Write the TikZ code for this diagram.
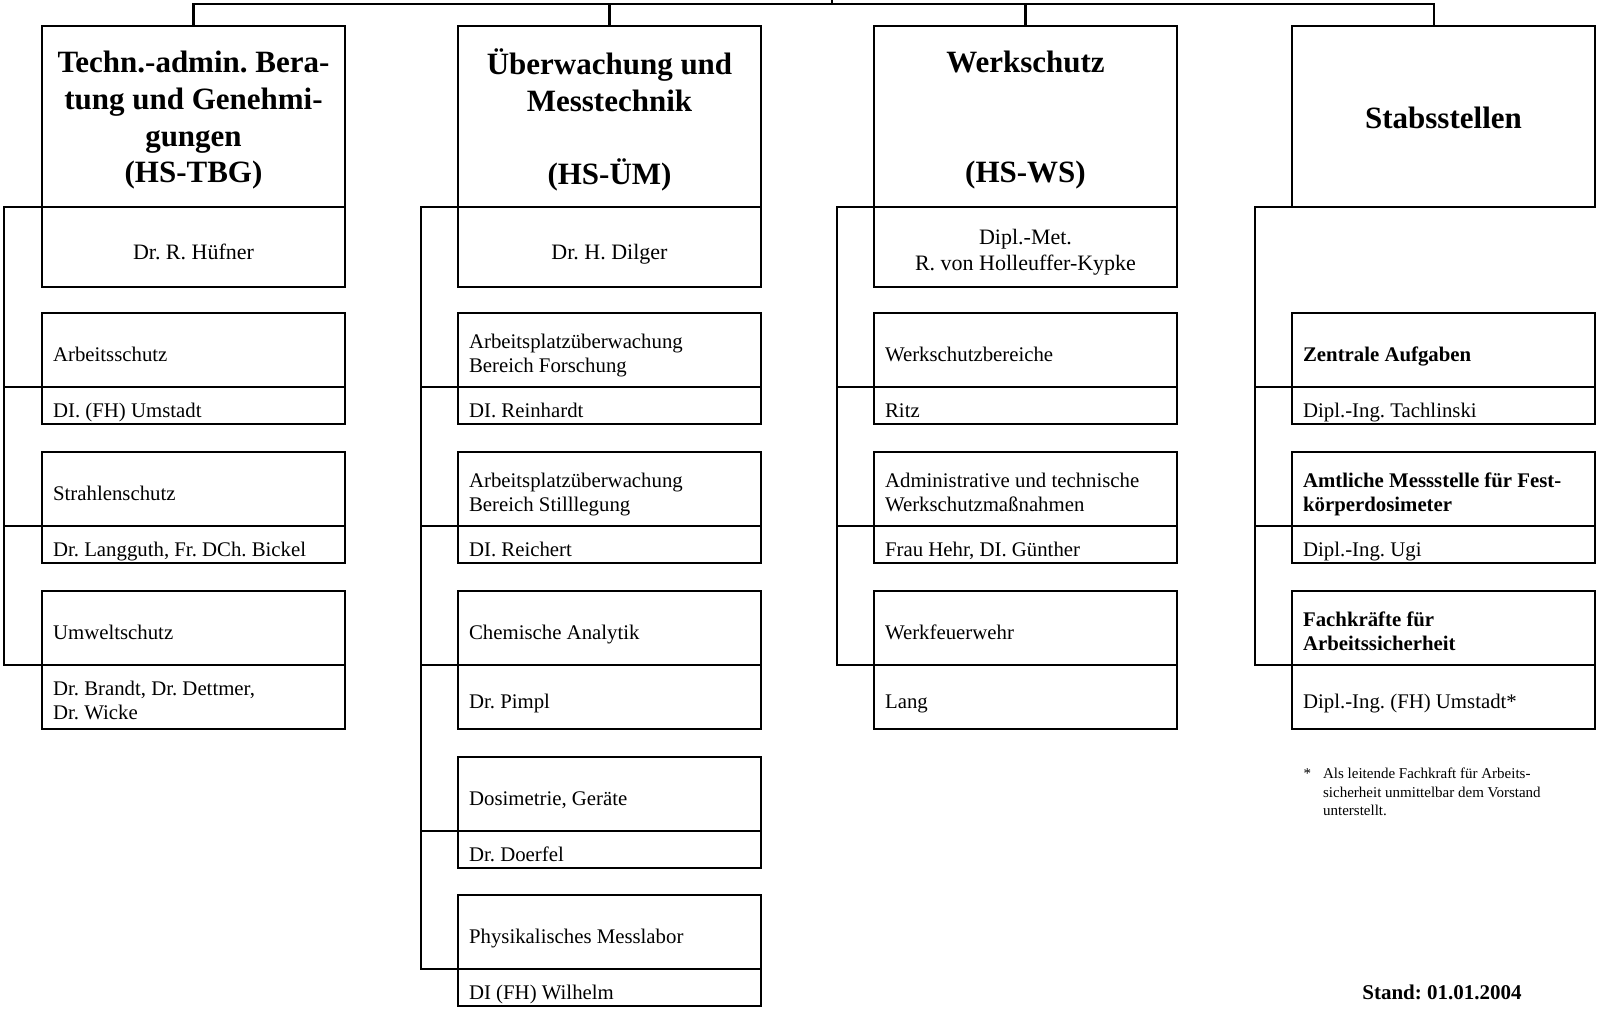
\documentclass[tikz,border=0pt]{standalone}
\usepackage{fontspec}
\setmainfont{Liberation Serif}
\usetikzlibrary{positioning}
\frenchspacing

\begin{document}
\begin{tikzpicture}[
            x=0.5pt, y=-0.5pt,
            line width=1.1pt,
            box/.style     ={draw, line width=1.1pt, inner sep=0pt, outer sep=0pt,
                             minimum width=151.5pt, anchor=north west},
            kopf/.style    ={box, minimum height=90.5pt},
            leiter/.style  ={box, minimum height=40pt},
            bereich/.style ={box, minimum height=37pt},
            person/.style  ={box, minimum height=18.5pt},
            personx/.style ={box, minimum height=32pt},
            strt/.style    ={inner sep=0pt, execute at begin node=\strut, execute at end node=\strut},
            titel/.style   ={strt, align=center, font=\fontsize{15.5}{18.35}\selectfont\bfseries},
            chef/.style    ={strt, align=center, font=\fontsize{11}{13.3}\selectfont},
            txt/.style     ={strt, align=left, anchor=west, font=\fontsize{10.4}{12}\selectfont},
            txtb/.style    ={txt, font=\fontsize{10.4}{12}\selectfont\bfseries},
            note/.style    ={strt, align=left, anchor=north west, font=\fontsize{7.5}{9.2}\selectfont}
        ]
        \useasboundingbox (0,0) rectangle (1597,1009);

        % --- Hauptabteilungen
        \node[kopf] (kTBG) at (42,26) {};
        \node[kopf] (kUeM) at (458,26) {};
        \node[kopf] (kWS)  at (874,26) {};
        \node[kopf] (kSt)  at (1292,26) {};
        \node[titel] (tkTBG) at ([yshift=-3pt]kTBG.center)
              {Techn.-admin. Bera-\\tung und Genehmi-\\gungen\\(HS-TBG)};
        \node[titel] (tkUeM) at ([yshift=-3pt]kUeM.center)
              {Überwachung und\\Messtechnik\\\mbox{}\\(HS-ÜM)};
        \node[titel] (tkWS) at ([yshift=-3pt]kWS.center)
              {Werkschutz\\\mbox{}\\\mbox{}\\(HS-WS)};
        \node[titel] (tkSt) at ([yshift=-2.5pt]kSt.center) {Stabsstellen};

        \node[leiter, below=0pt of kTBG] (lTBG) {};
        \node[leiter, below=0pt of kUeM] (lUeM) {};
        \node[leiter, below=0pt of kWS]  (lWS)  {};
        \node[chef] (tlTBG) at ([yshift=-3.5pt]lTBG.center) {Dr. R. Hüfner};
        \node[chef] (tlUeM) at ([yshift=-3.5pt]lUeM.center) {Dr. H. Dilger};
        \node[chef] (tlWS)  at ([yshift=-3.5pt]lWS.center) {Dipl.-Met.\\R. von Holleuffer-Kypke};

        % --- Verteiler oben
        \coordinate (bus) at (832,4);
        \draw (kTBG.north) |- (bus) -| ([xshift=-4.75pt]kSt.north);
        \draw (bus) -- (bus |- 0,0);
        \draw (kUeM.north) -- (kUeM.north |- bus);
        \draw (kWS.north) -- (kWS.north |- bus);

        % --- HS-TBG
        \node[bereich] (bTBG1) at (42,313) {};
        \node[person, below=0pt of bTBG1] (pTBG1) {};
        \node[bereich] (bTBG2) at (42,452) {};
        \node[person, below=0pt of bTBG2] (pTBG2) {};
        \node[bereich] (bTBG3) at (42,591) {};
        \node[personx, below=0pt of bTBG3] (pTBG3) {};
        \node[txt] (tbTBG1) at ([xshift=5pt,yshift=-3.5pt]bTBG1.west) {Arbeitsschutz};
        \node[txt] (tpTBG1) at ([xshift=5pt,yshift=-3.5pt]pTBG1.west) {DI. (FH) Umstadt};
        \node[txt] (tbTBG2) at ([xshift=5pt,yshift=-3.5pt]bTBG2.west) {Strahlenschutz};
        \node[txt] (tpTBG2) at ([xshift=5pt,yshift=-3.5pt]pTBG2.west) {Dr. Langguth, Fr. DCh. Bickel};
        \node[txt] (tbTBG3) at ([xshift=5pt,yshift=-3.5pt]bTBG3.west) {Umweltschutz};
        \node[txt] (tpTBG3) at ([xshift=5pt,yshift=-3.5pt]pTBG3.west) {Dr. Brandt, Dr. Dettmer,\\Dr. Wicke};
        \coordinate (rTBG) at (4,207);
        \draw (kTBG.south west) -- (rTBG) |- (bTBG3.south west);
        \draw (bTBG1.south west) -- (bTBG1.south west -| rTBG);
        \draw (bTBG2.south west) -- (bTBG2.south west -| rTBG);

        % --- HS-UeM
        \node[bereich] (bUeM1) at (458,313) {};
        \node[person, below=0pt of bUeM1] (pUeM1) {};
        \node[bereich] (bUeM2) at (458,452) {};
        \node[person, below=0pt of bUeM2] (pUeM2) {};
        \node[bereich] (bUeM3) at (458,591) {};
        \node[personx, below=0pt of bUeM3] (pUeM3) {};
        \node[bereich] (bUeM4) at (458,757) {};
        \node[person, below=0pt of bUeM4] (pUeM4) {};
        \node[bereich] (bUeM5) at (458,895) {};
        \node[person, below=0pt of bUeM5] (pUeM5) {};
        \node[txt] (tbUeM1) at ([xshift=5pt,yshift=-3.5pt]bUeM1.west) {Arbeitsplatzüberwachung\\Bereich Forschung};
        \node[txt] (tpUeM1) at ([xshift=5pt,yshift=-3.5pt]pUeM1.west) {DI. Reinhardt};
        \node[txt] (tbUeM2) at ([xshift=5pt,yshift=-3.5pt]bUeM2.west) {Arbeitsplatzüberwachung\\Bereich Stilllegung};
        \node[txt] (tpUeM2) at ([xshift=5pt,yshift=-3.5pt]pUeM2.west) {DI. Reichert};
        \node[txt] (tbUeM3) at ([xshift=5pt,yshift=-3.5pt]bUeM3.west) {Chemische Analytik};
        \node[txt] (tpUeM3) at ([xshift=5pt,yshift=-3.5pt]pUeM3.west) {Dr. Pimpl};
        \node[txt] (tbUeM4) at ([xshift=5pt,yshift=-3.5pt]bUeM4.west) {Dosimetrie, Geräte};
        \node[txt] (tpUeM4) at ([xshift=5pt,yshift=-3.5pt]pUeM4.west) {Dr. Doerfel};
        \node[txt] (tbUeM5) at ([xshift=5pt,yshift=-3.5pt]bUeM5.west) {Physikalisches Messlabor};
        \node[txt] (tpUeM5) at ([xshift=5pt,yshift=-3.5pt]pUeM5.west) {DI (FH) Wilhelm};
        \coordinate (rUeM) at (421,207);
        \draw (kUeM.south west) -- (rUeM) |- (bUeM5.south west);
        \draw (bUeM1.south west) -- (bUeM1.south west -| rUeM);
        \draw (bUeM2.south west) -- (bUeM2.south west -| rUeM);
        \draw (bUeM3.south west) -- (bUeM3.south west -| rUeM);
        \draw (bUeM4.south west) -- (bUeM4.south west -| rUeM);

        % --- HS-WS
        \node[bereich] (bWS1) at (874,313) {};
        \node[person, below=0pt of bWS1] (pWS1) {};
        \node[bereich] (bWS2) at (874,452) {};
        \node[person, below=0pt of bWS2] (pWS2) {};
        \node[bereich] (bWS3) at (874,591) {};
        \node[personx, below=0pt of bWS3] (pWS3) {};
        \node[txt] (tbWS1) at ([xshift=5pt,yshift=-3.5pt]bWS1.west) {Werkschutzbereiche};
        \node[txt] (tpWS1) at ([xshift=5pt,yshift=-3.5pt]pWS1.west) {Ritz};
        \node[txt] (tbWS2) at ([xshift=5pt,yshift=-3.5pt]bWS2.west) {Administrative und technische\\Werkschutzmaßnahmen};
        \node[txt] (tpWS2) at ([xshift=5pt,yshift=-3.5pt]pWS2.west) {Frau Hehr, DI. Günther};
        \node[txt] (tbWS3) at ([xshift=5pt,yshift=-3.5pt]bWS3.west) {Werkfeuerwehr};
        \node[txt] (tpWS3) at ([xshift=5pt,yshift=-3.5pt]pWS3.west) {Lang};
        \coordinate (rWS) at (837,207);
        \draw (kWS.south west) -- (rWS) |- (bWS3.south west);
        \draw (bWS1.south west) -- (bWS1.south west -| rWS);
        \draw (bWS2.south west) -- (bWS2.south west -| rWS);

        % --- Stabsstellen
        \node[bereich] (bSt1) at (1292,313) {};
        \node[person, below=0pt of bSt1] (pSt1) {};
        \node[bereich] (bSt2) at (1292,452) {};
        \node[person, below=0pt of bSt2] (pSt2) {};
        \node[bereich] (bSt3) at (1292,591) {};
        \node[personx, below=0pt of bSt3] (pSt3) {};
        \node[txtb] (tbSt1) at ([xshift=5pt,yshift=-3.5pt]bSt1.west) {Zentrale Aufgaben};
        \node[txt]  (tpSt1) at ([xshift=5pt,yshift=-3.5pt]pSt1.west) {Dipl.-Ing. Tachlinski};
        \node[txtb] (tbSt2) at ([xshift=5pt,yshift=-3.5pt]bSt2.west) {Amtliche Messstelle für Fest-\\körperdosimeter};
        \node[txt]  (tpSt2) at ([xshift=5pt,yshift=-3.5pt]pSt2.west) {Dipl.-Ing. Ugi};
        \node[txtb] (tbSt3) at ([xshift=5pt,yshift=-3.5pt]bSt3.west) {Fachkräfte für\\Arbeitssicherheit};
        \node[txt]  (tpSt3) at ([xshift=5pt,yshift=-3.5pt]pSt3.west) {Dipl.-Ing. (FH) Umstadt*};
        \coordinate (rSt) at (1255,207);
        \draw (kSt.south west) -- (rSt) |- (bSt3.south west);
        \draw (bSt1.south west) -- (bSt1.south west -| rSt);
        \draw (bSt2.south west) -- (bSt2.south west -| rSt);

        % Fussnote und Stand
        \node[note] (fn) at (1322,767)
              {\llap{*\hspace{6pt}}Als leitende Fachkraft für Arbeits-\\sicherheit unmittelbar dem Vorstand\\unterstellt.};
        \node[anchor=base, inner sep=0pt, font=\fontsize{10.5}{12}\selectfont\bfseries] (stand)
              at (1442,999) {Stand: 01.01.2004};

    \end{tikzpicture}
\end{document}
